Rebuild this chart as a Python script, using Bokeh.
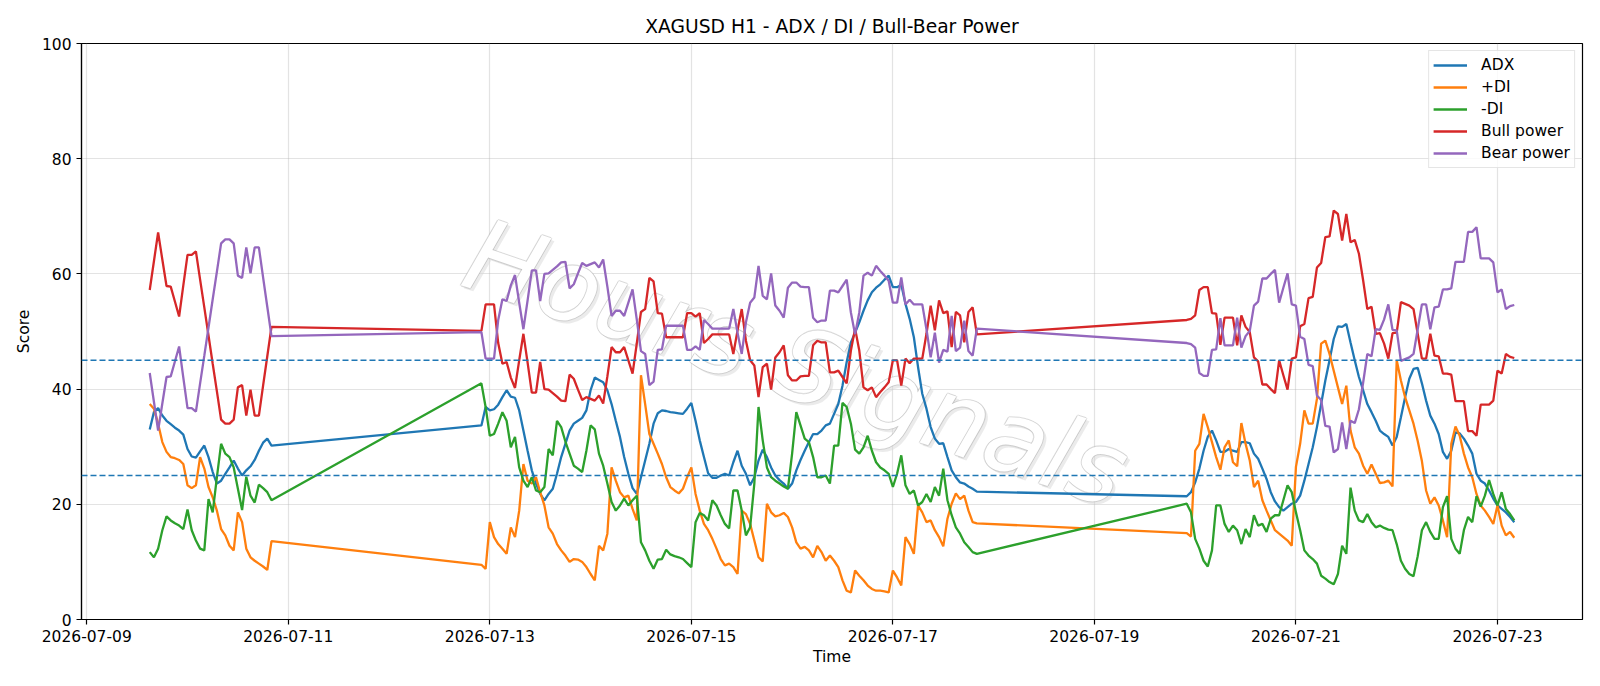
import pandas as pd
from bokeh.plotting import figure
from bokeh.models import Span, FixedTicker, DatetimeTickFormatter, Range1d
from bokeh.embed import file_html
from bokeh.resources import INLINE
from bokeh.core.properties import value

# ---------------- data (hourly bars, three trading stretches) ----------------
segment_starts = ["2026-07-09 15:00", "2026-07-12 22:00", "2026-07-19 22:00"]
x_ticks = ["2026-07-09", "2026-07-11", "2026-07-13", "2026-07-15",
           "2026-07-17", "2026-07-19", "2026-07-21", "2026-07-23"]
y_ticks = [0, 20, 40, 60, 80, 100]
levels = [25, 45]

adx_seg1 = [33.0, 36.0, 36.7, 35.4, 34.5, 33.9, 33.3, 32.8, 32.1, 29.6,
            28.3, 28.1, 29.2, 30.2, 28.2, 25.6, 23.6, 24.1, 25.3, 26.4,
            27.6, 26.2, 25.0, 25.9, 26.6, 27.7, 29.3, 30.7, 31.4, 30.2]
adx_seg2 = [33.7, 36.9, 36.3, 36.5, 37.3, 38.6, 39.8, 38.7, 38.5, 36.3,
            32.8, 29.3, 25.9, 23.6, 21.8, 20.7, 21.8, 22.7, 25.3, 28.2,
            30.5, 32.8, 34.0, 34.5, 35.0, 36.3, 39.8, 42.0, 41.6, 41.2,
            39.8, 37.4, 34.5, 31.7, 28.2, 25.3, 22.8, 21.8, 24.7, 27.6,
            30.5, 34.0, 35.8, 36.3, 36.2, 36.0, 35.9, 35.8, 35.7, 36.6,
            37.6, 34.5, 31.1, 28.2, 25.4, 24.6, 24.6, 25.0, 25.3, 25.0,
            27.3, 29.3, 26.7, 25.3, 23.3, 24.7, 27.6, 29.5, 28.2, 26.4,
            25.0, 24.2, 23.6, 22.7, 23.6, 25.9, 27.7, 29.3, 30.8, 32.2,
            32.2, 32.8, 33.7, 34.0, 35.7, 37.4, 40.6, 44.7, 48.1, 49.8,
            51.6, 53.6, 55.4, 56.8, 57.6, 58.2, 59.0, 59.7, 57.7, 57.7,
            58.1, 54.8, 52.2, 49.0, 43.8, 39.2, 36.6, 33.4, 31.4, 30.5,
            30.6, 28.2, 25.9, 24.7, 23.8, 23.6, 23.1, 22.7, 22.2]
adx_seg3 = [21.4, 22.1, 23.8, 26.2, 29.3, 31.7, 32.8, 31.1, 29.1, 29.1,
            29.6, 29.3, 29.1, 30.8, 30.8, 30.6, 28.8, 27.9, 26.2, 24.4,
            22.1, 20.5, 19.5, 18.9, 19.5, 20.1, 20.4, 21.5, 24.1, 27.0,
            29.9, 33.4, 37.4, 41.5, 45.0, 48.7, 50.9, 50.8, 51.3, 48.1,
            45.0, 42.1, 39.8, 37.4, 36.0, 34.5, 32.8, 32.2, 31.7, 30.2,
            31.7, 35.1, 38.6, 41.8, 43.5, 43.7, 41.0, 38.0, 35.4, 34.0,
            32.2, 29.1, 27.9, 29.3, 32.5, 32.3, 31.4, 30.2, 28.8, 25.3,
            24.1, 23.6, 22.4, 21.0, 19.8, 19.2, 18.6, 17.8, 16.9]

pdi_seg1 = [37.4, 36.6, 34.0, 30.8, 29.1, 28.2, 28.0, 27.7, 27.0, 23.3,
            22.8, 23.3, 28.2, 26.2, 23.0, 21.2, 18.9, 15.7, 14.6, 12.8,
            12.0, 18.6, 16.9, 12.3, 10.8, 10.2, 9.7, 9.2, 8.6, 13.6]
pdi_seg2 = [9.5, 8.8, 16.9, 14.3, 13.1, 12.3, 11.4, 16.0, 14.3, 18.9,
            27.0, 24.1, 23.6, 24.7, 22.1, 19.8, 16.0, 14.9, 13.1, 12.0,
            11.1, 10.0, 10.5, 10.4, 10.0, 9.1, 7.9, 6.8, 12.8, 12.0,
            14.9, 26.4, 24.1, 22.1, 21.2, 21.5, 19.2, 17.2, 42.4, 37.4,
            32.2, 30.5, 28.8, 27.0, 24.7, 23.0, 22.4, 21.9, 22.7, 24.7,
            26.4, 21.8, 18.9, 16.6, 15.5, 14.0, 12.3, 10.5, 9.4, 9.7,
            9.1, 7.9, 18.9, 18.3, 16.6, 13.7, 10.8, 10.1, 20.1, 18.6,
            17.9, 18.1, 18.5, 17.8, 16.0, 13.4, 12.3, 12.6, 12.0, 10.8,
            12.8, 11.7, 10.2, 11.1, 10.2, 9.1, 6.8, 5.0, 4.7, 8.5,
            7.6, 6.8, 5.9, 5.3, 5.0, 5.0, 4.9, 4.7, 8.5, 7.3,
            5.9, 14.3, 13.1, 11.4, 19.8, 18.6, 16.9, 17.2, 15.5, 14.3,
            12.7, 17.5, 20.1, 21.9, 20.9, 21.5, 18.9, 16.9, 16.7]
pdi_seg3 = [15.0, 14.4, 29.3, 30.5, 35.7, 33.4, 30.8, 28.2, 26.0, 29.9,
            31.1, 27.3, 26.6, 34.1, 30.5, 27.6, 23.0, 24.1, 20.7, 18.9,
            17.2, 15.5, 14.9, 14.3, 13.7, 12.8, 26.5, 30.5, 36.3, 34.0,
            34.0, 38.3, 47.9, 48.4, 46.1, 43.2, 40.3, 37.4, 40.6, 32.8,
            29.9, 28.8, 26.7, 25.3, 26.9, 25.3, 23.7, 23.8, 24.1, 23.1,
            45.0, 41.5, 38.6, 36.3, 34.0, 31.0, 27.5, 22.4, 20.1, 21.2,
            19.8, 17.2, 14.3, 30.5, 33.5, 31.9, 28.8, 26.4, 24.7, 21.8,
            19.8, 18.9, 17.8, 16.6, 19.8, 16.3, 14.6, 15.2, 14.2]

mdi_seg1 = [11.7, 10.8, 12.3, 15.5, 17.9, 17.2, 16.7, 16.3, 15.7, 19.1,
            15.5, 13.7, 12.3, 12.0, 20.9, 18.6, 24.7, 30.5, 28.8, 28.2,
            26.4, 22.7, 19.0, 24.8, 21.5, 20.3, 23.4, 22.8, 22.1, 20.7]
mdi_seg2 = [41.0, 36.9, 31.9, 32.2, 34.0, 36.0, 34.5, 29.9, 31.7, 26.4,
            24.1, 23.0, 24.7, 22.4, 22.1, 23.0, 29.6, 28.5, 34.5, 33.4,
            30.9, 28.8, 26.7, 26.2, 25.6, 29.3, 33.7, 33.0, 28.8, 26.7,
            23.6, 20.4, 18.9, 19.8, 21.0, 19.8, 20.7, 21.5, 13.4, 12.0,
            10.2, 8.8, 10.4, 10.5, 12.1, 11.3, 11.0, 10.8, 10.5, 9.8,
            9.1, 16.9, 18.5, 18.1, 17.2, 20.7, 19.8, 18.1, 16.6, 15.8,
            22.4, 22.4, 18.9, 14.6, 16.0, 23.6, 36.9, 31.1, 26.4, 24.7,
            24.1, 23.6, 23.1, 22.7, 28.8, 36.0, 33.7, 31.4, 30.8, 28.2,
            24.7, 24.7, 25.0, 23.6, 30.2, 30.2, 37.6, 36.9, 34.0, 29.5,
            28.8, 29.9, 31.9, 29.3, 27.3, 26.4, 25.9, 25.3, 23.0, 25.3,
            28.5, 23.3, 21.8, 22.4, 19.8, 20.4, 21.8, 20.4, 23.0, 21.5,
            26.2, 20.7, 18.1, 16.0, 14.9, 13.4, 12.6, 11.7, 11.4]
mdi_seg3 = [20.1, 18.6, 14.0, 12.3, 10.2, 9.2, 12.0, 19.8, 19.8, 16.6,
            15.2, 16.3, 15.5, 13.1, 15.7, 14.3, 18.1, 16.3, 16.6, 15.2,
            17.5, 18.1, 18.1, 20.7, 23.3, 22.1, 18.6, 15.5, 12.0, 11.1,
            10.5, 9.7, 7.6, 7.1, 6.5, 6.1, 7.9, 12.8, 11.4, 22.9,
            18.9, 17.2, 16.9, 18.3, 16.9, 16.0, 16.3, 15.9, 15.6, 15.5,
            13.1, 10.2, 8.8, 7.9, 7.5, 11.0, 15.5, 16.9, 15.2, 14.0,
            14.0, 19.5, 21.4, 14.0, 12.3, 11.4, 15.5, 17.8, 16.9, 21.4,
            19.6, 21.5, 24.2, 21.8, 19.8, 22.1, 19.2, 18.3, 17.2]

bull_seg1 = [57.2, 62.2, 67.2, 62.5, 57.9, 57.8, 55.2, 52.6, 58.0, 63.3,
             63.3, 63.9, 59.0, 54.2, 49.3, 44.4, 39.6, 34.7, 34.0, 34.0,
             34.7, 40.3, 40.7, 35.4, 39.9, 35.4, 35.4, 40.6, 45.7, 50.8]
bull_seg2 = [50.1, 54.7, 54.7, 54.7, 48.0, 44.4, 44.7, 42.0, 40.2, 45.0,
             49.6, 44.6, 39.4, 39.4, 44.7, 40.0, 39.9, 39.3, 38.7, 38.0,
             37.9, 42.5, 41.8, 39.9, 38.1, 38.6, 38.3, 38.0, 38.9, 37.5,
             42.2, 47.3, 46.4, 46.4, 47.3, 45.0, 42.7, 47.9, 53.4, 53.9,
             59.3, 58.7, 53.2, 53.1, 49.0, 49.0, 49.0, 49.0, 49.0, 53.2,
             53.2, 52.6, 53.2, 48.0, 48.7, 49.5, 49.5, 49.5, 49.5, 49.5,
             46.1, 50.2, 53.9, 48.4, 45.0, 44.1, 38.6, 43.8, 44.4, 39.9,
             45.5, 46.4, 47.6, 42.4, 41.5, 41.5, 42.2, 42.3, 42.3, 47.6,
             48.4, 48.1, 48.1, 42.9, 42.9, 43.2, 42.1, 41.0, 46.7, 50.5,
             46.7, 40.3, 39.8, 40.3, 38.6, 39.5, 40.3, 41.2, 45.0, 45.0,
             40.6, 45.3, 44.5, 45.3, 45.3, 45.3, 49.6, 54.5, 50.2, 55.4,
             53.2, 53.5, 47.3, 53.4, 52.8, 48.1, 53.4, 54.2, 49.5]
bull_seg3 = [52.0, 52.2, 52.8, 57.2, 57.7, 57.7, 53.2, 53.1, 47.7, 52.4,
             52.4, 52.4, 47.6, 52.8, 50.8, 49.9, 45.5, 44.8, 40.8, 40.8,
             40.0, 39.3, 45.0, 42.4, 39.9, 45.3, 45.5, 50.9, 51.3, 55.8,
             56.0, 61.1, 61.9, 66.4, 66.5, 71.0, 70.4, 65.8, 70.4, 65.5,
             65.9, 63.5, 58.9, 53.9, 54.3, 49.6, 49.7, 47.9, 45.3, 49.7,
             49.8, 55.1, 54.8, 54.5, 53.9, 49.6, 45.3, 45.3, 49.6, 45.8,
             45.7, 42.7, 42.7, 42.5, 37.9, 37.9, 37.9, 32.7, 32.7, 31.9,
             37.3, 37.3, 37.3, 38.0, 43.2, 42.7, 46.1, 45.6, 45.4]

bear_seg1 = [42.8, 37.8, 32.8, 37.5, 42.1, 42.2, 44.8, 47.4, 42.0, 36.7,
             36.7, 36.1, 41.0, 45.8, 50.7, 55.6, 60.4, 65.3, 66.0, 66.0,
             65.3, 59.7, 59.3, 64.6, 60.1, 64.6, 64.6, 59.4, 54.3, 49.2]
bear_seg2 = [49.9, 45.3, 45.3, 45.3, 52.0, 55.6, 55.3, 58.0, 59.8, 55.0,
             50.4, 55.4, 60.6, 60.6, 55.3, 60.0, 60.1, 60.7, 61.3, 62.0,
             62.1, 57.5, 58.2, 60.1, 61.9, 61.4, 61.7, 62.0, 61.1, 62.5,
             57.8, 52.7, 53.6, 53.6, 52.7, 55.0, 57.3, 52.1, 46.6, 46.1,
             40.7, 41.3, 46.8, 46.9, 51.0, 51.0, 51.0, 51.0, 51.0, 46.8,
             46.8, 47.4, 46.8, 52.0, 51.3, 50.5, 50.5, 50.5, 50.5, 50.5,
             53.9, 49.8, 46.1, 51.6, 55.0, 55.9, 61.4, 56.2, 55.6, 60.1,
             54.5, 53.6, 52.4, 57.6, 58.5, 58.5, 57.8, 57.7, 57.7, 52.4,
             51.6, 51.9, 51.9, 57.1, 57.1, 56.8, 57.9, 59.0, 53.3, 49.5,
             53.3, 59.7, 60.2, 59.7, 61.4, 60.5, 59.7, 58.8, 55.0, 55.0,
             59.4, 54.7, 55.5, 54.7, 54.7, 54.7, 50.4, 45.5, 49.8, 44.6,
             46.8, 46.5, 52.7, 46.6, 47.2, 51.9, 46.6, 45.8, 50.5]
bear_seg3 = [48.0, 47.8, 47.2, 42.8, 42.3, 42.3, 46.8, 46.9, 52.3, 47.6,
             47.6, 47.6, 52.4, 47.2, 49.2, 50.1, 54.5, 55.2, 59.2, 59.2,
             60.0, 60.7, 55.0, 57.6, 60.1, 54.7, 54.5, 49.1, 48.7, 44.2,
             44.0, 38.9, 38.1, 33.6, 33.5, 29.0, 29.6, 34.2, 29.6, 34.5,
             34.1, 36.5, 41.1, 46.1, 45.7, 50.4, 50.3, 52.1, 54.7, 50.3,
             50.2, 44.9, 45.2, 45.5, 46.1, 50.4, 54.7, 54.7, 50.4, 54.2,
             54.3, 57.3, 57.3, 57.5, 62.1, 62.1, 62.1, 67.3, 67.3, 68.1,
             62.7, 62.7, 62.7, 62.0, 56.8, 57.3, 53.9, 54.4, 54.6]

series = [
    ("ADX", "#1f77b4", [adx_seg1, adx_seg2, adx_seg3]),
    ("+DI", "#ff7f0e", [pdi_seg1, pdi_seg2, pdi_seg3]),
    ("-DI", "#2ca02c", [mdi_seg1, mdi_seg2, mdi_seg3]),
    ("Bull power", "#d62728", [bull_seg1, bull_seg2, bull_seg3]),
    ("Bear power", "#9467bd", [bear_seg1, bear_seg2, bear_seg3]),
]


def build_xy(segs):
    xs, ys = [], []
    for start, seg in zip(segment_starts, segs):
        t = pd.date_range(start, periods=len(seg), freq="h")
        xs.extend(list(t))
        ys.extend(seg)
    return xs, ys


# ---------------- figure ----------------
FONT = "DejaVu Sans"
FS = "15.5px"
all_x = build_xy(series[0][2])[0]
pad = (all_x[-1] - all_x[0]) * 0.05

p = figure(width=1600, height=686, x_axis_type="datetime",
           output_backend="svg", toolbar_location=None,
           x_range=Range1d(all_x[0] - pad, all_x[-1] + pad),
           y_range=Range1d(0, 100),
           title="XAGUSD H1 - ADX / DI / Bull-Bear Power",
           min_border_left=81, min_border_right=18,
           min_border_top=43, min_border_bottom=67)

p.title.align = "center"
p.title.text_font = FONT
p.title.text_font_size = "18.7px"
p.title.text_font_style = "normal"
p.title.text_color = "black"
p.title.standoff = 14

p.background_fill_color = "white"
p.border_fill_color = "white"
p.outline_line_color = "black"
p.outline_line_width = 1.2
p.outline_line_alpha = 1.0

# watermark (drawn first, below the data lines)
wm_x = [pd.Timestamp("2026-07-16 01:00")]
wm_y = [44.5]
wm_text = ["Hours Signals"]
wm_kw = dict(angle=-0.33, text_font=value(FONT), text_font_style="italic",
             text_font_size="101px", text_align="center", text_baseline="middle")
p.text(x=wm_x, y=wm_y, text=wm_text, x_offset=3, y_offset=3,
       text_color="#d8d8d8", text_alpha=0.5, **wm_kw)
for dx, dy in [(-1.1, 0), (1.1, 0), (0, -1.1), (0, 1.1)]:
    p.text(x=wm_x, y=wm_y, text=wm_text, x_offset=dx, y_offset=dy,
           text_color="#b0b0b0", text_alpha=0.4, **wm_kw)
p.text(x=wm_x, y=wm_y, text=wm_text, text_color="white", text_alpha=1.0, **wm_kw)

for name, color, segs in series:
    xs, ys = build_xy(segs)
    p.line(xs, ys, line_color=color, line_width=2.3, legend_label=name)

for lv in levels:
    p.add_layout(Span(location=lv, dimension="width", line_color="#1f77b4",
                      line_dash="6 3", line_width=1.5))

# axes
tick_ms = [pd.Timestamp(t).value // 10**6 for t in x_ticks]
p.xaxis.ticker = FixedTicker(ticks=tick_ms)
fmt = "%Y-%m-%d"
p.xaxis.formatter = DatetimeTickFormatter(
    milliseconds=fmt, seconds=fmt, minsec=fmt, minutes=fmt, hourmin=fmt,
    hours=fmt, days=fmt, months=fmt, years=fmt)
p.yaxis.ticker = FixedTicker(ticks=y_ticks)

for ax in (p.xaxis[0], p.yaxis[0]):
    ax.major_label_text_font = FONT
    ax.major_label_text_font_size = FS
    ax.major_label_text_color = "black"
    ax.axis_label_text_font = FONT
    ax.axis_label_text_font_size = FS
    ax.axis_label_text_font_style = "normal"
    ax.axis_label_text_color = "black"
    ax.axis_line_color = "black"
    ax.axis_line_width = 1.2
    ax.major_tick_line_color = "black"
    ax.major_tick_line_width = 1.2
    ax.major_tick_out = 5
    ax.major_tick_in = 0
    ax.minor_tick_line_color = None
    ax.major_label_standoff = 5

p.xaxis.axis_label = "Time"
p.xaxis.axis_label_standoff = 3
p.yaxis.axis_label = "Score"
p.yaxis.axis_label_standoff = 6

p.grid.grid_line_color = "#b0b0b0"
p.grid.grid_line_alpha = 0.35
p.grid.grid_line_width = 1.2

# legend
lg = p.legend[0]
lg.location = "top_right"
lg.margin = 7
lg.padding = 4
lg.spacing = 2
lg.label_height = 20
lg.glyph_height = 20
lg.glyph_width = 34
lg.label_standoff = 14
lg.label_text_font = FONT
lg.label_text_font_size = FS
lg.label_text_color = "black"
lg.border_line_color = "#cccccc"
lg.border_line_width = 1
lg.background_fill_alpha = 0.8

open("out.html", "w").write(file_html(p, INLINE))
